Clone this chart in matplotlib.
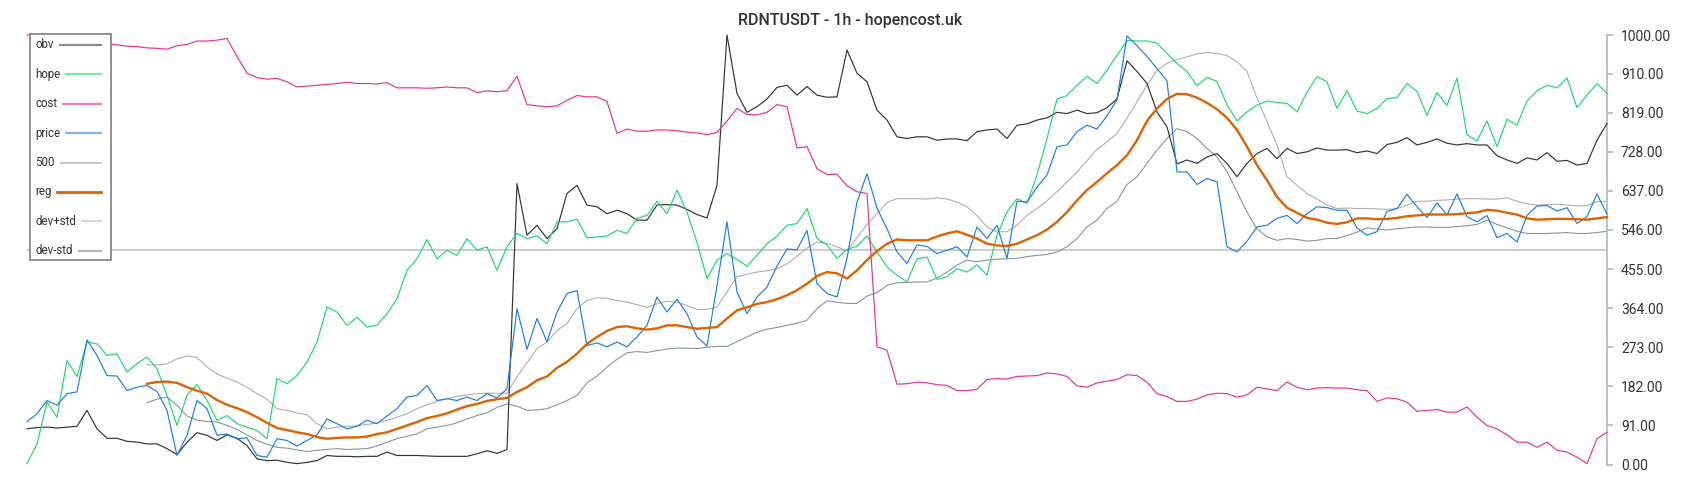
import matplotlib
matplotlib.use("Agg")
import matplotlib.pyplot as plt
from matplotlib.lines import Line2D
from matplotlib.patches import Rectangle
import numpy as np

titulo = "RDNTUSDT - 1h - hopencost.uk"

# valores (escala 0-1000), um ponto por hora
obv = [83, 86, 87, 85, 87, 89, 126, 83, 61, 61,
       54, 52, 48, 48, 37, 23, 52, 74, 68, 56,
       69, 61, 44, 13, 9, 10, 5, 2, 5, 9,
       21, 19, 19, 18, 19, 19, 29, 21, 21, 21,
       20, 19, 19, 19, 19, 25, 32, 26, 35, 654,
       534, 557, 526, 549, 631, 650, 604, 600, 584, 592,
       584, 569, 569, 604, 605, 604, 594, 582, 574, 650,
       1000, 864, 820, 833, 851, 878, 883, 860, 880, 860,
       855, 856, 965, 911, 891, 825, 802, 763, 759, 763,
       763, 755, 758, 758, 754, 775, 779, 781, 759, 790,
       793, 802, 807, 820, 817, 825, 817, 819, 831, 851,
       940, 915, 887, 821, 786, 700, 709, 701, 716, 724,
       701, 670, 701, 724, 736, 712, 736, 724, 728, 737,
       732, 732, 733, 726, 730, 724, 745, 750, 761, 744,
       750, 758, 748, 744, 747, 744, 744, 719, 709, 701,
       714, 709, 726, 706, 708, 697, 701, 755, 794]

hope = [2, 48, 145, 110, 242, 205, 285, 281, 254, 258,
        215, 235, 250, 223, 161, 91, 161, 186, 149, 103,
        114, 95, 87, 79, 60, 200, 188, 207, 239, 285,
        367, 355, 324, 343, 320, 324, 351, 386, 452, 479,
        524, 479, 499, 487, 526, 499, 507, 452, 507, 538,
        526, 532, 514, 565, 565, 571, 528, 530, 532, 545,
        538, 573, 580, 613, 584, 639, 588, 517, 433, 476,
        491, 477, 462, 487, 514, 532, 557, 561, 596, 526,
        511, 480, 501, 508, 532, 495, 460, 441, 425, 479,
        483, 431, 437, 456, 448, 465, 441, 534, 588, 619,
        608, 674, 759, 851, 859, 883, 904, 887, 918, 953,
        987, 986, 986, 981, 957, 934, 915, 882, 901, 892,
        837, 800, 821, 837, 846, 843, 841, 821, 867, 903,
        891, 829, 870, 823, 817, 829, 852, 854, 887, 869,
        813, 866, 836, 900, 768, 753, 800, 740, 804, 790,
        846, 870, 883, 877, 900, 831, 860, 887, 864]

cost = [1000, 1000, 1000, 999, 995, 990, 986, 982, 980, 977,
        974, 973, 970, 969, 967, 975, 978, 986, 986, 988,
        992, 950, 911, 901, 897, 899, 891, 879, 881, 883,
        885, 887, 890, 887, 887, 886, 889, 877, 877, 877,
        876, 877, 879, 877, 877, 866, 870, 868, 870, 904,
        838, 835, 833, 835, 848, 859, 856, 856, 845, 771,
        781, 776, 776, 779, 779, 777, 774, 772, 768, 773,
        800, 829, 815, 814, 820, 838, 833, 737, 740, 689,
        675, 676, 649, 635, 631, 274, 266, 187, 188, 192,
        190, 186, 184, 172, 172, 175, 198, 200, 199, 205,
        206, 207, 213, 211, 205, 183, 180, 190, 194, 198,
        209, 207, 192, 165, 158, 147, 147, 152, 162, 166,
        165, 157, 162, 180, 176, 172, 192, 180, 174, 178,
        179, 178, 178, 174, 172, 147, 155, 153, 145, 124,
        126, 128, 122, 122, 134, 110, 91, 83, 69, 52,
        52, 40, 52, 33, 29, 17, 2, 60, 75]

price = [100, 118, 149, 138, 165, 169, 290, 254, 207, 206,
         172, 180, 184, 170, 126, 21, 68, 149, 130, 68,
         71, 60, 62, 21, 17, 60, 56, 43, 56, 69,
         106, 95, 83, 89, 103, 95, 113, 130, 157, 161,
         184, 149, 153, 149, 157, 149, 165, 155, 176, 363,
         268, 340, 286, 355, 398, 405, 277, 283, 274, 285,
         274, 297, 324, 390, 355, 385, 351, 297, 276, 417,
         565, 402, 351, 390, 413, 462, 502, 500, 545, 421,
         398, 390, 480, 611, 677, 597, 549, 495, 468, 511,
         508, 491, 499, 507, 483, 553, 526, 557, 480, 613,
         611, 646, 674, 740, 744, 775, 790, 781, 812, 849,
         998, 975, 950, 922, 893, 681, 681, 652, 666, 658,
         507, 495, 520, 553, 557, 573, 580, 561, 584, 600,
         598, 592, 592, 551, 534, 542, 589, 596, 629, 600,
         575, 609, 581, 630, 577, 565, 580, 528, 538, 518,
         580, 602, 603, 590, 598, 561, 577, 630, 583]

# as bandas e a regressao so comecam no ponto 12
inicio_reg = 12
reg = [188, 192, 193, 190, 180, 172, 165, 150, 139, 131,
       122, 110, 97, 85, 80, 75, 71, 64, 60, 62,
       63, 63, 65, 71, 75, 83, 91, 99, 108, 113,
       119, 128, 136, 141, 148, 152, 155, 169, 180, 196,
       205, 225, 239, 258, 281, 297, 311, 320, 322, 317,
       314, 317, 324, 324, 320, 316, 318, 320, 340, 359,
       366, 374, 378, 385, 394, 406, 421, 439, 448, 445,
       433, 452, 476, 497, 514, 524, 522, 522, 522, 531,
       538, 543, 535, 526, 514, 510, 509, 514, 524, 534,
       547, 565, 588, 615, 639, 658, 678, 697, 720, 755,
       800, 829, 851, 863, 862, 854, 842, 827, 807, 779,
       740, 697, 662, 623, 598, 586, 574, 570, 563, 560,
       564, 573, 573, 571, 572, 574, 578, 580, 582, 582,
       582, 583, 585, 587, 593, 591, 586, 582, 573, 570,
       571, 572, 572, 571, 570, 573, 576]

dev_mais = [232, 232, 234, 246, 253, 249, 227, 211, 201, 192,
            180, 165, 152, 130, 126, 120, 116, 95, 83, 87,
            89, 90, 93, 97, 103, 110, 118, 130, 139, 147,
            153, 159, 162, 165, 166, 166, 166, 204, 237, 270,
            285, 312, 328, 363, 382, 388, 387, 382, 378, 372,
            366, 374, 380, 378, 370, 361, 361, 367, 402, 437,
            443, 448, 451, 456, 467, 485, 504, 518, 515, 507,
            497, 528, 559, 584, 610, 619, 619, 619, 618, 621,
            618, 611, 600, 579, 553, 542, 542, 557, 580, 596,
            614, 635, 658, 681, 708, 734, 751, 771, 806, 845,
            883, 918, 934, 943, 949, 956, 959, 957, 952, 938,
            915, 853, 798, 744, 670, 650, 631, 618, 604, 596,
            597, 596, 596, 595, 594, 596, 604, 613, 613, 615,
            616, 618, 619, 619, 618, 618, 621, 613, 607, 604,
            605, 606, 604, 602, 603, 612, 612]

dev_menos = [144, 152, 157, 138, 113, 103, 100, 99, 91, 82,
             69, 56, 47, 40, 38, 34, 30, 33, 35, 37,
             35, 36, 37, 43, 52, 60, 66, 71, 83, 87,
             91, 97, 106, 114, 120, 133, 141, 136, 126, 127,
             130, 139, 149, 161, 190, 206, 227, 245, 260, 263,
             261, 265, 269, 271, 271, 270, 273, 275, 275, 286,
             297, 308, 315, 319, 324, 329, 336, 363, 381, 378,
             375, 375, 392, 400, 417, 423, 424, 425, 425, 434,
             448, 464, 476, 472, 476, 478, 479, 480, 484, 487,
             489, 495, 507, 526, 553, 569, 596, 613, 652, 670,
             701, 732, 759, 782, 775, 759, 736, 716, 682, 635,
             588, 549, 530, 522, 526, 524, 520, 522, 526, 526,
             533, 541, 551, 548, 546, 549, 551, 553, 553, 552,
             552, 554, 556, 559, 569, 559, 551, 543, 538, 538,
             538, 539, 540, 538, 538, 540, 543]

linha_500 = 500
ticks_y = [0, 91, 182, 273, 364, 455, 546, 637, 728, 819, 910, 1000]

# nome, cor no grafico, cor na legenda
legenda = [("obv", "#8c8c8c"), ("hope", "#7eeaa8"), ("cost", "#ee7fb8"),
           ("price", "#7fb5ec"), ("500", "#c8c8c8"), ("reg", "#de6200"),
           ("dev+std", "#d2d6da"), ("dev-std", "#aeb6bd")]

LARG, ALT = 1700, 500


def com_inicio(valores, inicio, n):
    # completa com nan os pontos antes do inicio
    return np.array([np.nan] * inicio + list(valores), dtype=float)


def desenha():
    n = len(obv)
    x = np.arange(n)
    fig = plt.figure(figsize=(LARG / 100, ALT / 100), dpi=100)
    ax = fig.add_axes([27 / LARG, 1 - 464.5 / ALT, 1580 / LARG, 429.5 / ALT])

    ax.axhline(linha_500, color="#c8c8c8", lw=1.3, zorder=1)
    ax.plot(x, com_inicio(dev_mais, inicio_reg, n), color="#aab0b6", lw=0.8, zorder=2, clip_on=False)
    ax.plot(x, com_inicio(dev_menos, inicio_reg, n), color="#8796a0", lw=0.8, zorder=2, clip_on=False)
    ax.plot(x, obv, color="#333333", lw=0.85, zorder=3, clip_on=False)
    ax.plot(x, hope, color="#1ed96e", lw=0.85, zorder=3, clip_on=False)
    ax.plot(x, cost, color="#e8338d", lw=0.85, zorder=3, clip_on=False)
    ax.plot(x, price, color="#1a7fe6", lw=0.85, zorder=4, clip_on=False)
    ax.plot(x, com_inicio(reg, inicio_reg, n), color="#de6200", lw=1.7, zorder=5, clip_on=False)

    ax.set_xlim(0, n - 1)
    ax.set_ylim(0, 1000)
    ax.set_xticks([])
    ax.yaxis.tick_right()
    ax.set_yticks(ticks_y)
    ax.set_yticklabels([f"{v:.2f}" for v in ticks_y], family="Roboto")
    for lado in ["left", "top", "bottom"]:
        ax.spines[lado].set_visible(False)
    ax.spines["right"].set_color("#b0b8c0")
    ax.spines["right"].set_linewidth(1.2)
    ax.tick_params(axis="y", length=4, width=1.2, color="#b0b8c0", pad=6,
                   labelsize=10, labelcolor="#333333")
    ax.patch.set_alpha(0)

    fig.text(850 / LARG, 1 - 20.5 / ALT, titulo, ha="center", va="center",
             fontsize=11.5, family="Roboto", fontweight="medium", color="#333333")

    # legenda feita a mao: texto a esquerda, linha ate a borda direita
    caixa = Rectangle((30 / LARG, 1 - 260 / ALT), 80.5 / LARG, 225.5 / ALT,
                      transform=fig.transFigure, facecolor="white",
                      edgecolor="#888888", lw=1.3, zorder=10)
    fig.add_artist(caixa)
    textos = []
    for k, (nome, cor) in enumerate(legenda):
        y = 1 - (45 + k * 29.4) / ALT
        t = fig.text(35 / LARG, y, nome, ha="left", va="center", fontsize=8.3,
                     family="Roboto", color="#333333", zorder=11)
        textos.append((t, y, cor, nome))
    fig.canvas.draw()
    rend = fig.canvas.get_renderer()
    for t, y, cor, nome in textos:
        bb = t.get_window_extent(rend)
        x0 = (bb.x1 + 6) / LARG
        lw = 2.0 if nome == "reg" else 1.6
        fig.add_artist(Line2D([x0, 101 / LARG], [y, y], transform=fig.transFigure,
                              color=cor, lw=lw, zorder=11))

    fig.savefig("out.png", dpi=100)


desenha()
